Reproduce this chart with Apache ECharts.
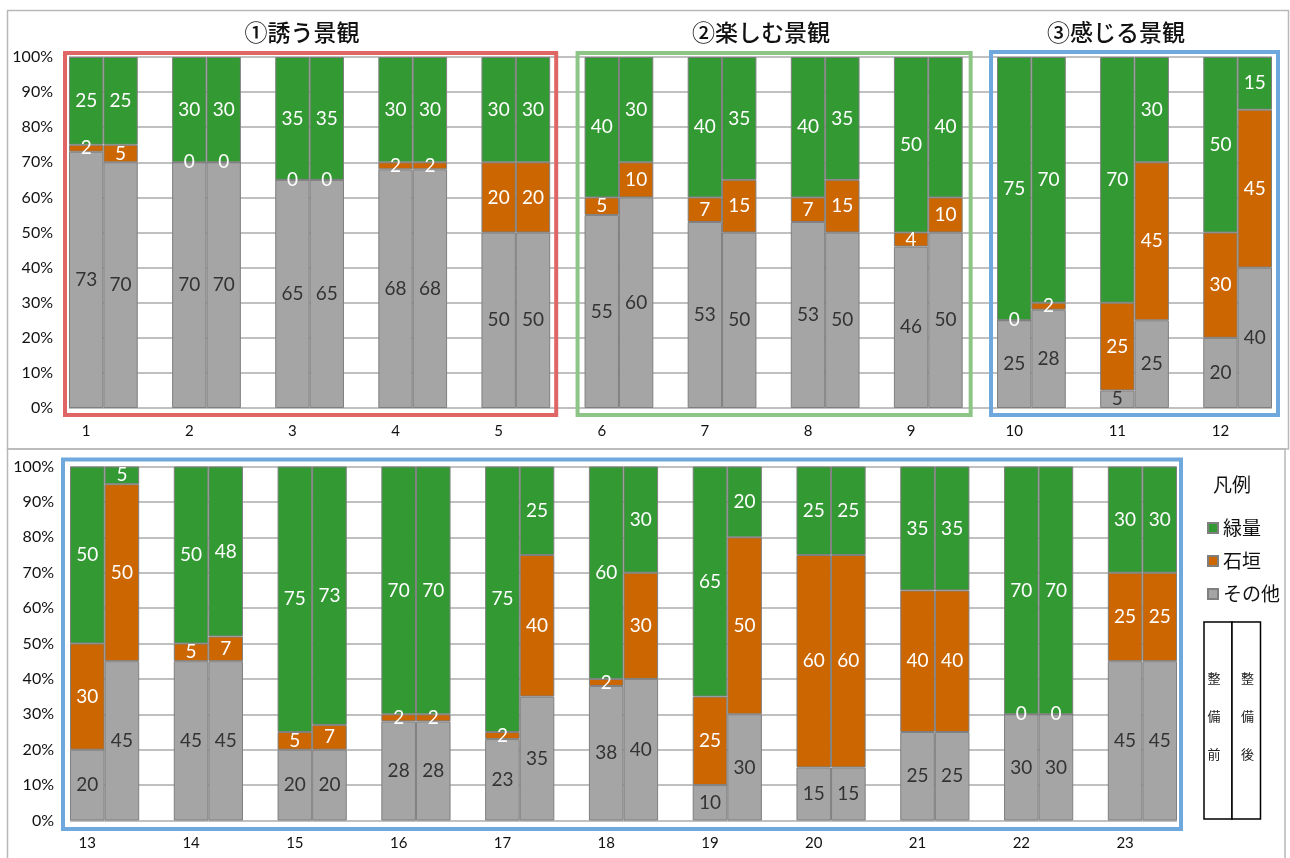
<!DOCTYPE html>
<html>
<head>
<meta charset="utf-8">
<script src="https://cdn.jsdelivr.net/npm/echarts@6/dist/echarts.min.js"></script>
<style>
  html, body { margin: 0; padding: 0; background: #fff; }
  #main { width: 1290px; height: 858px; }
</style>
</head>
<body>
<div id="main"></div>
<script>
// Landscape survey: share of greenery / stone wall / other, before and after works
const topGroups = ['1', '2', '3', '4', '5', '6', '7', '8', '9', '10', '11', '12'];
const topOtherBefore = [73, 70, 65, 68, 50, 55, 53, 53, 46, 25, 5, 20];
const topOtherAfter  = [70, 70, 65, 68, 50, 60, 50, 50, 50, 28, 25, 40];
const topStoneBefore = [2, 0, 0, 2, 20, 5, 7, 7, 4, 0, 25, 30];
const topStoneAfter  = [5, 0, 0, 2, 20, 10, 15, 15, 10, 2, 45, 45];
const topGreenBefore = [25, 30, 35, 30, 30, 40, 40, 40, 50, 75, 70, 50];
const topGreenAfter  = [25, 30, 35, 30, 30, 30, 35, 35, 40, 70, 30, 15];

const bottomGroups = ['13', '14', '15', '16', '17', '18', '19', '20', '21', '22', '23'];
const bottomOtherBefore = [20, 45, 20, 28, 23, 38, 10, 15, 25, 30, 45];
const bottomOtherAfter  = [45, 45, 20, 28, 35, 40, 30, 15, 25, 30, 45];
const bottomStoneBefore = [30, 5, 5, 2, 2, 2, 25, 60, 40, 0, 25];
const bottomStoneAfter  = [50, 7, 7, 2, 40, 30, 50, 60, 40, 0, 25];
const bottomGreenBefore = [50, 50, 75, 70, 75, 60, 65, 25, 35, 70, 30];
const bottomGreenAfter  = [5, 48, 73, 70, 25, 30, 20, 25, 35, 70, 30];

const seriesNames = ['その他', '石垣', '緑量'];
const sectionTitles = ['①誘う景観', '②楽しむ景観', '③感じる景観'];
const yTicks = [0, 10, 20, 30, 40, 50, 60, 70, 80, 90, 100];

const COLORS = { '緑量': '#339933', '石垣': '#CC6600', 'その他': '#A5A5A5' };
const NUM_FONT = 'Lato, "Noto Sans CJK JP", sans-serif';
const JP_FONT = '"Noto Sans CJK JP", sans-serif';

// Each group takes three slots: before, after, blank spacer (no spacer after the last)
function toSlots(before, after) {
  const out = [];
  before.forEach((b, i) => {
    out.push(b, after[i]);
    if (i < before.length - 1) out.push(null);
  });
  return out;
}
function slotIds(groups) {
  const out = [];
  groups.forEach((g, i) => {
    out.push(g + '-a', g + '-b');
    if (i < groups.length - 1) out.push(g + '-c');
  });
  return out;
}
function slotLabel(id) {
  return id.endsWith('-a') ? id.slice(0, -2) : '';
}

const topSlots = slotIds(topGroups);
const bottomSlots = slotIds(bottomGroups);

function makeSeries(name, data, axisIdx, stack) {
  return {
    name: name,
    type: 'bar',
    stack: stack,
    xAxisIndex: axisIdx,
    yAxisIndex: axisIdx,
    data: data,
    barCategoryGap: '0%',
    barGap: '0%',
    itemStyle: { color: COLORS[name], borderColor: '#7f7f7f', borderWidth: 1 },
    label: {
      show: true,
      position: 'inside',
      fontFamily: NUM_FONT,
      fontSize: 19,
      color: name === 'その他' ? '#333333' : '#ffffff',
      formatter: p => (p.value == null ? '' : String(p.value))
    },
    emphasis: { disabled: true },
    animation: false
  };
}

const series = [
  makeSeries('その他', toSlots(topOtherBefore, topOtherAfter), 0, 'top'),
  makeSeries('石垣', toSlots(topStoneBefore, topStoneAfter), 0, 'top'),
  makeSeries('緑量', toSlots(topGreenBefore, topGreenAfter), 0, 'top'),
  makeSeries('その他', toSlots(bottomOtherBefore, bottomOtherAfter), 1, 'bottom'),
  makeSeries('石垣', toSlots(bottomStoneBefore, bottomStoneAfter), 1, 'bottom'),
  makeSeries('緑量', toSlots(bottomGreenBefore, bottomGreenAfter), 1, 'bottom')
];

function xAxis(ids, gridIndex, margin) {
  return {
    type: 'category',
    gridIndex: gridIndex,
    data: ids,
    axisLine: { show: false },
    axisTick: { show: false },
    axisLabel: {
      interval: 0,
      margin: margin,
      fontFamily: NUM_FONT,
      fontSize: 15,
      color: '#111',
      formatter: v => slotLabel(v)
    }
  };
}
function yAxis(gridIndex) {
  return {
    type: 'value',
    gridIndex: gridIndex,
    min: yTicks[0],
    max: yTicks[yTicks.length - 1],
    interval: yTicks[1] - yTicks[0],
    axisLine: { show: false },
    axisTick: { show: false },
    axisLabel: {
      margin: 16,
      fontFamily: NUM_FONT,
      fontSize: 16,
      color: '#111',
      formatter: '{value}%'
    },
    splitLine: { lineStyle: { color: '#ababab', width: 1.5 } }
  };
}

const chart = echarts.init(document.getElementById('main'), null, { renderer: 'canvas' });

chart.setOption({
  backgroundColor: '#ffffff',
  animation: false,
  grid: [
    { left: 69, top: 57, width: 1203, height: 351 },
    { left: 70, top: 466.5, width: 1107, height: 354 }
  ],
  xAxis: [xAxis(topSlots, 0, 16), xAxis(bottomSlots, 1, 15)],
  yAxis: [yAxis(0), yAxis(1)],
  legend: {
    data: ['緑量', '石垣', 'その他'],
    orient: 'vertical',
    left: 1202,
    top: 513,
    icon: 'rect',
    itemWidth: 10,
    itemHeight: 10,
    itemGap: 13,
    selectedMode: false,
    textStyle: { fontFamily: JP_FONT, fontSize: 19, lineHeight: 20, color: '#111' }
  },
  series: series
});

// Section frames, outer panel borders, titles and the before/after key
function framesFor(axisIdx, ids, ranges) {
  const c0 = chart.convertToPixel({ xAxisIndex: axisIdx }, ids[0]);
  const c1 = chart.convertToPixel({ xAxisIndex: axisIdx }, ids[1]);
  const half = (c1 - c0) / 2;
  const yTop = chart.convertToPixel({ yAxisIndex: axisIdx }, 100);
  const yBot = chart.convertToPixel({ yAxisIndex: axisIdx }, 0);
  return ranges.map(r => {
    const xa = chart.convertToPixel({ xAxisIndex: axisIdx }, ids[r.from * 3]) - half - r.pad[0];
    const xb = chart.convertToPixel({ xAxisIndex: axisIdx }, ids[r.to * 3 + 1]) + half + r.pad[1];
    const ya = yTop - r.pad[2];
    const yb = yBot + r.pad[3];
    return {
      type: 'rect',
      silent: true,
      z: 100,
      shape: { x: xa, y: ya, width: xb - xa, height: yb - ya },
      style: { fill: null, stroke: r.color, lineWidth: 4 }
    };
  });
}

const graphics = [
  // panel outlines
  { type: 'rect', silent: true, z: 0, shape: { x: 7.5, y: 10.5, width: 1281, height: 438.5 },
    style: { fill: null, stroke: '#b8b8b8', lineWidth: 1.5 } },
  { type: 'rect', silent: true, z: 0, shape: { x: 7.5, y: 449, width: 1277.5, height: 420 },
    style: { fill: null, stroke: '#b8b8b8', lineWidth: 1.5 } }
].concat(
  framesFor(0, topSlots, [
    { from: 0, to: 4, color: '#E06666', pad: [4, 6, 4, 7] },
    { from: 5, to: 8, color: '#8CC585', pad: [7, 8, 4, 7] },
    { from: 9, to: 11, color: '#6FA8DC', pad: [6, 6, 5, 7] }
  ]),
  framesFor(1, bottomSlots, [
    { from: 0, to: 10, color: '#6FA8DC', pad: [7, 4, 7, 8.5] }
  ]),
  [
    [302, 32], [761, 32], [1116, 32]
  ].map((p, i) => ({
    type: 'text', silent: true, z: 100, x: p[0], y: p[1],
    style: { text: sectionTitles[i], fontFamily: JP_FONT, fontSize: 23, fontWeight: 500,
      fill: '#111', align: 'center', verticalAlign: 'middle' }
  })),
  [
    { type: 'text', silent: true, z: 100, x: 1232, y: 485,
      style: { text: '凡例', fontFamily: JP_FONT, fontSize: 19, fill: '#111',
        align: 'center', verticalAlign: 'middle' } },
    { type: 'rect', silent: true, z: 100, shape: { x: 1204, y: 622, width: 28, height: 197 },
      style: { fill: '#fff', stroke: '#000', lineWidth: 1.5 } },
    { type: 'rect', silent: true, z: 100, shape: { x: 1232, y: 622, width: 28.5, height: 197 },
      style: { fill: '#fff', stroke: '#000', lineWidth: 1.5 } },
    { type: 'text', silent: true, z: 101, x: 1214, y: 716,
      style: { text: '整\n備\n前', fontFamily: JP_FONT, fontSize: 13, lineHeight: 38,
        fill: '#222', align: 'center', verticalAlign: 'middle' } },
    { type: 'text', silent: true, z: 101, x: 1247.5, y: 716,
      style: { text: '整\n備\n後', fontFamily: JP_FONT, fontSize: 13, lineHeight: 38,
        fill: '#222', align: 'center', verticalAlign: 'middle' } }
  ]
);

chart.setOption({ graphic: graphics });
</script>
</body>
</html>
